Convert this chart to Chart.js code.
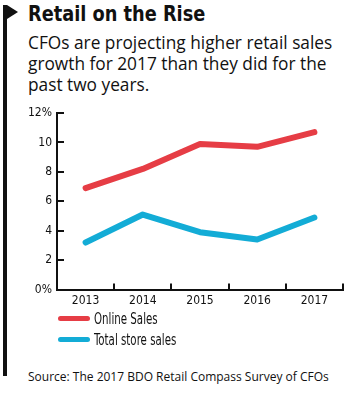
<!DOCTYPE html>
<html>
<head>
<meta charset="utf-8">
<script src="https://cdn.jsdelivr.net/npm/chart.js@4/dist/chart.umd.min.js"></script>
<style>
  html, body { margin: 0; padding: 0; background: #fff; }
  body { width: 350px; height: 396px; position: relative; overflow: hidden; font-family: "Open Sans", "Noto Sans", sans-serif; color: #111; }
  #bar { position: absolute; left: 3px; top: 5px; width: 4px; height: 371px; background: #111; }
  #flag { position: absolute; left: 7px; top: 5px; width: 0; height: 0; border-top: 7px solid transparent; border-bottom: 7px solid transparent; border-left: 11px solid #111; }
  #title { position: absolute; left: 28px; top: 0px; font-family: "DejaVu Sans Condensed", "DejaVu Sans", sans-serif; font-weight: bold; font-size: 21px; line-height: 28px; white-space: nowrap; transform: scaleX(0.94); transform-origin: left top; }
  #sub { position: absolute; left: 28px; top: 32px; font-size: 17.3px; line-height: 21px; white-space: nowrap; }
  #chartBox { position: absolute; left: 0; top: 100px; width: 350px; height: 212px; }
  .leg { position: absolute; left: 58px; font-size: 15px; line-height: 18px; white-space: nowrap; }
  .leg span.sw { display: inline-block; width: 32px; height: 5px; border-radius: 3px; vertical-align: middle; margin-right: 4px; position: relative; top: -1px; }
  .leg span.tx { display: inline-block; font-family: "DejaVu Sans Condensed", "DejaVu Sans", sans-serif; transform: scaleX(0.76); transform-origin: left center; }
  #source { position: absolute; left: 28px; top: 368px; font-size: 12px; line-height: 17px; white-space: nowrap; }
</style>
</head>
<body>
<div id="bar"></div>
<div id="flag"></div>
<div id="title">Retail on the Rise</div>
<div id="sub">CFOs are projecting higher retail sales<br>growth for 2017 than they did for the<br>past two years.</div>
<div id="chartBox"><canvas id="c" width="350" height="212"></canvas></div>
<div class="leg" style="top:309px"><span class="sw" style="background:#e63d45"></span><span class="tx">Online Sales</span></div>
<div class="leg" style="top:330px"><span class="sw" style="background:#13acd6"></span><span class="tx">Total store sales</span></div>
<div id="source">Source: The 2017 BDO Retail Compass Survey of CFOs</div>
<script>
const years = ["2013", "2014", "2015", "2016", "2017"];
const onlineSales = [6.9, 8.2, 9.9, 9.7, 10.7];
const totalStoreSales = [3.2, 5.1, 3.9, 3.4, 4.9];
const yTicks = [0, 2, 4, 6, 8, 10, 12];
const yTickLabels = ["0%", "2", "4", "6", "8", "10", "12%"];

const condensed = '"DejaVu Sans Condensed", "DejaVu Sans", sans-serif';

// inward tick marks (x ticks up at category boundaries, y ticks to the right)
const innerTicks = {
  id: 'innerTicks',
  afterDraw(chart) {
    const x = chart.scales.x, y = chart.scales.y, ctx = chart.ctx;
    const yb = chart.chartArea.bottom, xl = chart.chartArea.left;
    ctx.save();
    ctx.strokeStyle = '#111';
    ctx.lineWidth = 2;
    ctx.beginPath();
    for (let i = 0; i < years.length; i++) {
      const px = Math.round(x.getPixelForValue(i + 0.5));
      ctx.moveTo(px, yb);
      ctx.lineTo(px, yb - 6);
    }
    yTicks.forEach(v => {
      if (v === 0) return;
      const py = Math.round(y.getPixelForValue(v));
      ctx.moveTo(xl, py);
      ctx.lineTo(xl + 7, py);
    });
    ctx.stroke();
    ctx.restore();
  }
};

new Chart(document.getElementById('c'), {
  type: 'line',
  data: {
    labels: years,
    datasets: [
      { label: 'Online Sales', data: onlineSales, borderColor: '#e63d45', borderWidth: 6, pointRadius: 0, tension: 0, borderCapStyle: 'round', borderJoinStyle: 'round' },
      { label: 'Total store sales', data: totalStoreSales, borderColor: '#13acd6', borderWidth: 6, pointRadius: 0, tension: 0, borderCapStyle: 'round', borderJoinStyle: 'round' }
    ]
  },
  options: {
    responsive: false,
    animation: false,
    devicePixelRatio: 1,
    layout: { padding: { left: 0, right: 7, top: 13, bottom: 0 } },
    plugins: { legend: { display: false }, tooltip: { enabled: false } },
    scales: {
      x: {
        offset: true,
        grid: { display: false, drawTicks: false, tickLength: 0 },
        border: { display: true, color: '#111', width: 2 },
        ticks: { color: '#111', font: { family: condensed, size: 12 }, padding: 4, maxRotation: 0 }
      },
      y: {
        min: 0, max: 12,
        afterFit(scale) { scale.width = 57; },
        afterBuildTicks(scale) { scale.ticks = yTicks.map(v => ({ value: v })); },
        grid: { display: false, drawTicks: false, tickLength: 0 },
        border: { display: true, color: '#111', width: 2 },
        ticks: { color: '#111', padding: 5, font: { family: condensed, size: 12 }, callback: (v) => yTickLabels[yTicks.indexOf(v)] }
      }
    }
  },
  plugins: [innerTicks]
});
</script>
</body>
</html>
